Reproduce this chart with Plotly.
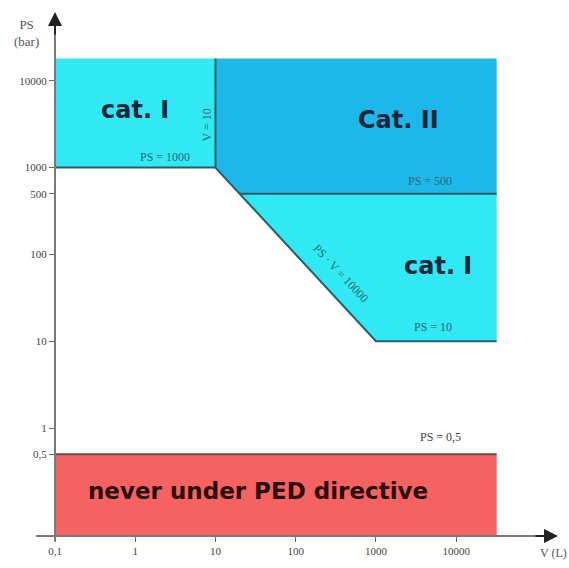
import math
import plotly.graph_objects as go

# Axis ticks
V_TICKS = [0.1, 1, 10, 100, 1000, 10000]
V_LABELS = ["0,1", "1", "10", "100", "1000", "10000"]
PS_TICKS = [0.5, 1, 10, 100, 500, 1000, 10000]
PS_LABELS = ["0,5", "1", "10", "100", "500", "1000", "10000"]

# Chart extent
V_MIN, V_MAX = 0.1, 32000          # left / right edge of the coloured areas
PS_FLOOR, PS_TOP = 0.057, 18000    # axis origin / top of the coloured areas
AXIS_V_END, AXIS_PS_END = 186000, 62000

# Category boundaries (PED, group 2 gases)
PS_NEVER = 0.5        # below this: never under PED
V_SPLIT = 10          # V = 10
PS_LEFT = 1000        # PS = 1000
PSV_LIMIT = 10000     # PS . V = 10000
PS_CAT2 = 500         # PS = 500
PS_CAT1 = 10          # PS = 10

CYAN = "#30e9f2"
BLUE = "#1db8ea"
RED = "#f46262"
EDGE = "#2b5c63"

v_diag_top = PSV_LIMIT / PS_CAT2      # where PS.V = 10000 meets PS = 500
v_diag_end = PSV_LIMIT / PS_CAT1      # where PS.V = 10000 meets PS = 10

fig = go.Figure()

def area(xs, ys, color):
    fig.add_trace(go.Scatter(x=xs, y=ys, fill="toself", fillcolor=color,
                             mode="none", hoverinfo="skip", showlegend=False))

def edge(xs, ys, color=EDGE, width=2):
    fig.add_trace(go.Scatter(x=xs, y=ys, mode="lines", hoverinfo="skip",
                             line=dict(color=color, width=width), showlegend=False))

# never under PED
area([V_MIN, V_MAX, V_MAX, V_MIN], [PS_FLOOR, PS_FLOOR, PS_NEVER, PS_NEVER], RED)
# cat. I, small volumes
area([V_MIN, V_SPLIT, V_SPLIT, V_MIN], [PS_LEFT, PS_LEFT, PS_TOP, PS_TOP], CYAN)
# Cat. II
area([V_SPLIT, V_MAX, V_MAX, v_diag_top, V_SPLIT],
     [PS_TOP, PS_TOP, PS_CAT2, PS_CAT2, PS_LEFT], BLUE)
# cat. I, large volumes
area([v_diag_top, V_MAX, V_MAX, v_diag_end],
     [PS_CAT2, PS_CAT2, PS_CAT1, PS_CAT1], CYAN)

# boundary lines
edge([V_MIN, V_SPLIT], [PS_LEFT, PS_LEFT])
edge([V_SPLIT, V_SPLIT, v_diag_end, V_MAX], [PS_TOP, PS_LEFT, PS_CAT1, PS_CAT1])
edge([v_diag_top, V_MAX], [PS_CAT2, PS_CAT2])
edge([V_MIN, V_MAX], [PS_NEVER, PS_NEVER], color="#6e4a4a")

small = dict(family="Liberation Serif", size=12, color="#2f6a70")
big = dict(family="DejaVu Sans", size=24, color="#15263a")

ann = [
    dict(x=math.log10(1.0), y=math.log10(4600), text="<b>cat. I</b>", font=big),
    dict(x=math.log10(1900), y=math.log10(3500), text="<b>Cat. II</b>", font=big),
    dict(x=math.log10(6000), y=math.log10(73), text="<b>cat. I</b>", font=big),
    dict(x=math.log10(34), y=math.log10(0.19), text="<b>never under PED directive</b>",
         font=dict(family="DejaVu Sans", size=23, color="#2a0c0c")),
    dict(x=math.log10(2.35), y=math.log10(PS_LEFT), yshift=11, text="PS = 1000", font=small),
    dict(x=math.log10(V_SPLIT), y=math.log10(3100), xshift=-9, textangle=-90,
         text="V = 10", font=small),
    dict(x=math.log10(4700), y=math.log10(PS_CAT2), yshift=13, text="PS = 500", font=small),
    dict(x=math.log10(5200), y=math.log10(PS_CAT1), yshift=14, text="PS = 10", font=small),
    dict(x=math.log10(6300), y=math.log10(PS_NEVER), yshift=17, text="PS = 0,5",
         font=dict(family="Liberation Serif", size=12, color="#444")),
    dict(x=math.log10(236), y=math.log10(PSV_LIMIT / 236), xshift=15, yshift=14,
         textangle=47, text="PS · V = 10000", font=small),
]
for a in ann:
    a.update(xref="x", yref="y", showarrow=False)

# axis titles and arrowheads
ann += [
    dict(xref="paper", yref="paper", x=-0.056, y=0.96, xanchor="center", yanchor="middle",
         text="PS<br>(bar)", showarrow=False,
         font=dict(family="Liberation Serif", size=13, color="#555")),
    dict(xref="paper", yref="paper", x=1.022, y=-0.05, text="V (L)", xanchor="right",
         showarrow=False, font=dict(family="Liberation Serif", size=12, color="#555")),
    dict(xref="paper", yref="paper", x=1.0, y=0.0, ax=-24, ay=0, text="",
         showarrow=True, arrowhead=2, arrowsize=1.4, arrowwidth=2, arrowcolor="#222"),
    dict(xref="paper", yref="paper", x=0.0, y=1.0, ax=0, ay=24, text="",
         showarrow=True, arrowhead=2, arrowsize=1.4, arrowwidth=2, arrowcolor="#222"),
]

shapes = [
    dict(type="line", xref="paper", yref="paper", x0=-0.038, x1=0.99, y0=0, y1=0,
         line=dict(color="#7a7a7a", width=2)),
    dict(type="line", xref="paper", yref="paper", x0=0, x1=0, y0=-0.01, y1=0.98,
         line=dict(color="#7a7a7a", width=2)),
]

tickfont = dict(family="Liberation Serif", size=11, color="#444")
fig.update_layout(
    width=569, height=568,
    margin=dict(l=55, r=11, t=12, b=32),
    plot_bgcolor="white", paper_bgcolor="white",
    annotations=ann, shapes=shapes,
    xaxis=dict(type="log", range=[math.log10(V_MIN), math.log10(AXIS_V_END)],
               tickvals=V_TICKS, ticktext=V_LABELS, ticks="outside", ticklen=5,
               tickcolor="#666", tickfont=tickfont, showgrid=False, zeroline=False,
               showline=False),
    yaxis=dict(type="log", range=[math.log10(PS_FLOOR), math.log10(AXIS_PS_END)],
               tickvals=PS_TICKS, ticktext=PS_LABELS, ticks="outside", ticklen=5,
               tickcolor="#666", tickfont=tickfont, showgrid=False, zeroline=False,
               showline=False),
)

fig.write_html("out.html")
